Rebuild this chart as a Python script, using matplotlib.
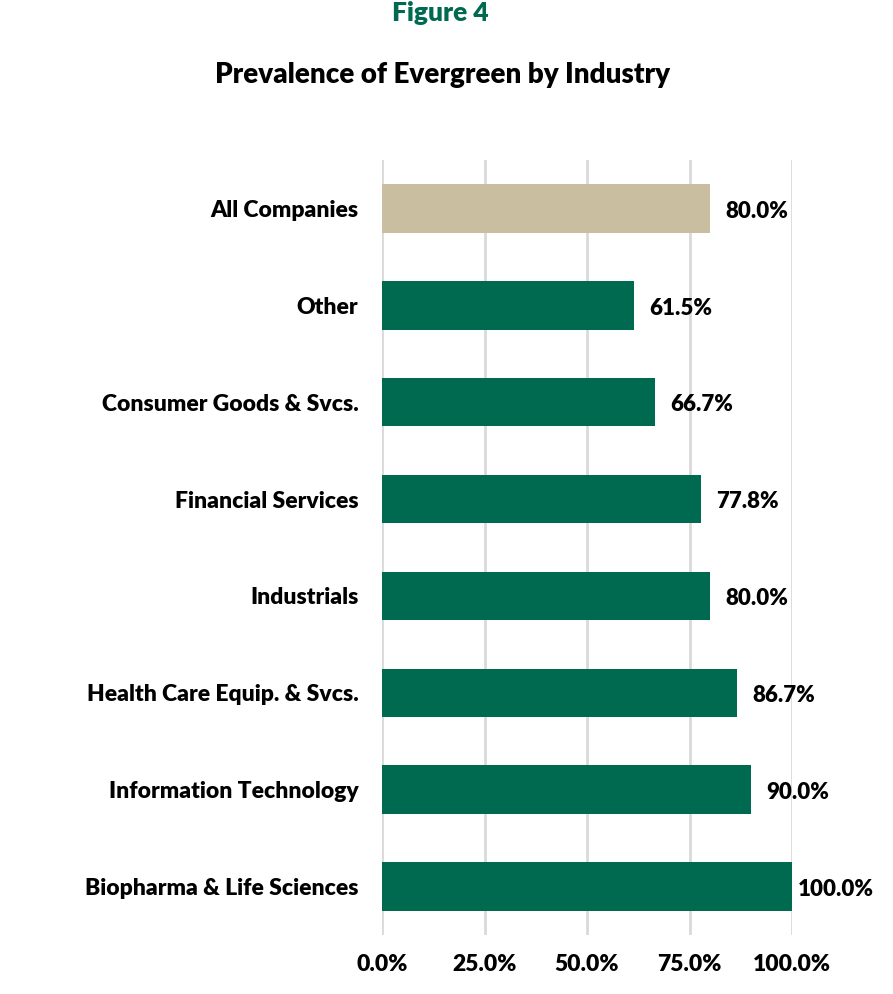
import matplotlib.pyplot as plt
from matplotlib.ticker import PercentFormatter

plt.rcParams["font.family"] = ["Lato", "DejaVu Sans"]
plt.rcParams["font.weight"] = "heavy"

industries = [
    "Biopharma & Life Sciences",
    "Information Technology",
    "Health Care Equip. & Svcs.",
    "Industrials",
    "Financial Services",
    "Consumer Goods & Svcs.",
    "Other",
    "All Companies",
]
prevalence = [100.0, 90.0, 86.7, 80.0, 77.8, 66.7, 61.5, 80.0]
x_ticks = [0, 25, 50, 75, 100]

GREEN = "#006A50"
TAN = "#C9BFA0"
colors = [TAN if name == "All Companies" else GREEN for name in industries]

fig = plt.figure(figsize=(8.93, 9.94), dpi=100)
ax = fig.add_axes([382 / 893, 59 / 994, 410 / 893, 775 / 994])

ypos = range(len(industries))
ax.barh(ypos, prevalence, height=0.5, color=colors, zorder=3)

for y, v in zip(ypos, prevalence):
    # the full-width bar's label sits closer so it stays inside the figure
    dx = 4 if v >= 100 else 11
    ax.annotate(f"{v:.1f}%", (v, y), xytext=(dx, -2), textcoords="offset points",
                va="center", ha="left", fontsize=16, fontweight="heavy")

ax.set_xlim(0, 100)
ax.set_ylim(-0.5, len(industries) - 0.5)
ax.set_xticks(x_ticks)
ax.xaxis.set_major_formatter(PercentFormatter(decimals=1))
ax.set_yticks(list(ypos))
ax.set_yticklabels(industries)
ax.tick_params(axis="both", length=0, labelsize=16.5)
ax.tick_params(axis="y", pad=17)
ax.tick_params(axis="x", pad=14)
ax.grid(axis="x", color="#D9D9D9", linewidth=2, zorder=0)
for s in ax.spines.values():
    s.set_visible(False)

fig.text(0.493, 0.987, "Figure 4", ha="center", va="center", fontsize=19,
         fontweight="heavy", color=GREEN)
fig.text(0.496, 0.925, "Prevalence of Evergreen by Industry", ha="center",
         va="center", fontsize=20, fontweight="heavy")

fig.savefig("out.png", dpi=100)
